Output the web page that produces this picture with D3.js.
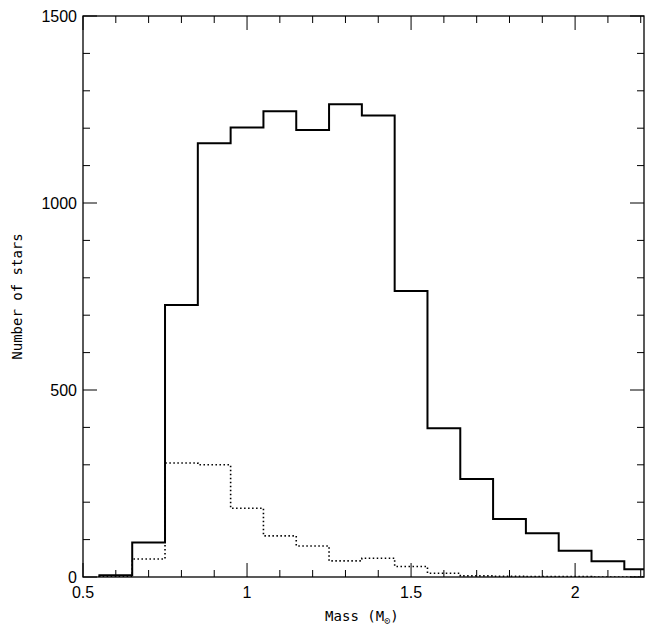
<!DOCTYPE html>
<html><head><meta charset="utf-8">
<script src="https://cdn.jsdelivr.net/npm/d3@7"></script>
<style>body{margin:0;background:#fff}</style></head>
<body><svg id="c" width="654" height="628"></svg>
<script>
const binEdges=[0.55,0.65,0.75,0.85,0.95,1.05,1.15,1.25,1.35,1.45,1.55,1.65,1.75,1.85,1.95,2.05,2.15,2.25];
const allStars=[5,92,727,1160,1202,1245,1195,1264,1234,765,398,262,155,117,70,42,21];
const subset=[2,48,305,300,184,110,83,43,50,28,10,3,2,1,1,0,0];
const xTicks=[0.5,1,1.5,2];
const yTicks=[0,500,1000,1500];
const svg=d3.select("#c");
const L=83,R=644,T=16,B=577;
const x=d3.scaleLinear().domain([0.5,2.21]).range([L,R]);
const y=d3.scaleLinear().domain([0,1500]).range([B,T]);
svg.append("clipPath").attr("id","cl").append("rect").attr("x",L).attr("y",T).attr("width",R-L).attr("height",B-T);
function path(vals){
  const pts=[[binEdges[0],0]];
  vals.forEach((v,i)=>{pts.push([binEdges[i],v]);pts.push([binEdges[i+1],v]);});
  return d3.line().x(d=>x(d[0])).y(d=>y(d[1]))(pts);
}
const g=svg.append("g").attr("clip-path","url(#cl)");
g.append("path").attr("d",path(allStars)).attr("fill","none").attr("stroke","#000").attr("stroke-width",2);
g.append("path").attr("d",path(subset)).attr("fill","none").attr("stroke","#000").attr("stroke-width",1.6).attr("stroke-dasharray","1.5,2.5");
svg.append("rect").attr("x",L).attr("y",T).attr("width",R-L).attr("height",B-T).attr("fill","none").attr("stroke","#000").attr("stroke-width",1.3);
const tk=svg.append("g").attr("stroke","#000").attr("stroke-width",1);
d3.range(0.5,2.21,0.1).forEach(v=>{
  const major=xTicks.some(t=>Math.abs(t-v)<1e-6);const len=major?14:7;const px=x(v);
  tk.append("line").attr("x1",px).attr("x2",px).attr("y1",B).attr("y2",B-len);
  tk.append("line").attr("x1",px).attr("x2",px).attr("y1",T).attr("y2",T+len);
});
d3.range(0,1501,100).forEach(v=>{
  const major=v%500===0;const len=major?14:7;const py=y(v);
  tk.append("line").attr("y1",py).attr("y2",py).attr("x1",L).attr("x2",L+len);
  tk.append("line").attr("y1",py).attr("y2",py).attr("x1",R).attr("x2",R-len);
});
const f="'DejaVu Sans Mono', monospace", fs="'Liberation Sans', Arial, sans-serif";
xTicks.forEach(v=>svg.append("text").attr("x",x(v)).attr("y",B+21).attr("text-anchor","middle").attr("font-family",fs).attr("font-size",16).text(v));
yTicks.forEach(v=>svg.append("text").attr("x",L-6).attr("y",y(v)+6).attr("text-anchor","end").attr("font-family",fs).attr("font-size",16).text(v));
const xl=svg.append("text").attr("x",x(1.35)).attr("y",621).attr("text-anchor","middle").attr("font-family",f).attr("font-size",14);
xl.append("tspan").text("Mass (M");xl.append("tspan").attr("font-size",10).attr("dy",3).text("⊙");xl.append("tspan").attr("dy",-3).text(")");
svg.append("text").attr("transform",`translate(22,${(T+B)/2}) rotate(-90)`).attr("text-anchor","middle").attr("font-family",f).attr("font-size",14).text("Number of stars");
</script></body></html>
